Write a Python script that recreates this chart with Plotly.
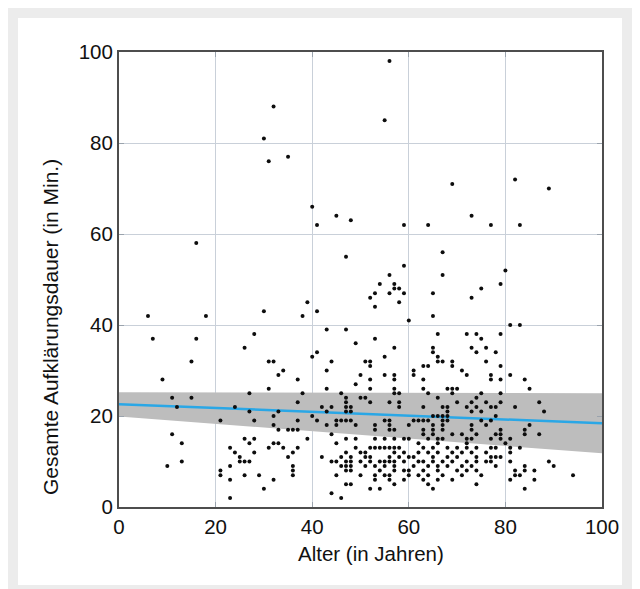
import plotly.graph_objects as go

# ---------------- data ----------------
ages = [
    # sparse upper region
    32, 30, 31, 35, 40, 41, 45, 48, 16, 47, 56, 55, 69, 82, 89, 73, 59, 64, 77, 83, 67, 59, 56, 67, 80, 54, 57, 79,
    # left
    6, 18, 7, 16, 15, 9, 11, 15, 12, 21, 11, 13, 13, 10, 21, 21,
    # 25-45 min, age 25-40
    39, 30, 38, 28, 26, 40, 31, 32, 34, 33, 37, 31, 27, 38,
    # < 25 min, age 20-40
    37, 24, 27, 33, 32, 28, 37, 40, 32, 33, 35, 36, 37, 39, 26, 28, 27, 23, 31, 32,
    33, 34, 37, 24, 28, 36, 25, 35, 25, 26, 27, 23, 36, 36, 36, 26, 29, 32, 23, 30, 23,
    # 25-50 min, age 40-60
    57, 58, 53, 56, 52, 58, 53, 59, 41, 43, 47, 49, 53, 41, 57, 44, 51, 52, 52, 55,
    43, 50, 55, 57, 57, 52, 49, 43, 52, 57, 57, 58, 46,
    # < 25 min, age 40-58
    47, 50, 51,
    47, 52, 56, 58,
    42, 44, 47, 48,
    43, 47, 48,
    41, 45, 46, 47, 48, 55, 56,
    43, 45, 49, 53, 56,
    53, 56, 57,
    44,
    47, 49, 53, 55, 57,
    45,
    49, 52, 53, 54, 55, 56, 57,
    47, 50, 51, 57,
    42, 46, 48, 51, 52, 56,
    44, 45, 47, 48, 50, 52, 54, 55, 56, 57,
    46, 47, 48, 51, 53, 55, 57,
    47, 48, 54, 57,
    45, 50, 53, 55, 56,
    53, 56,
    47, 48, 57,
    52, 54,
    44,
    46,
    # 25-50 min, age 60-77
    65, 75, 73, 65, 60, 66, 72, 74, 75, 65, 73, 76, 65, 74, 66, 66, 67, 69, 76, 63,
    64, 69, 61, 71, 61, 72, 77, 63, 77, 63, 68, 69, 70, 64, 69, 75,
    # < 25 min, age 58-76
    66, 74,
    70, 73, 76,
    58, 63, 67, 68, 72, 74,
    68, 73, 75,
    65, 66, 67, 68,
    61, 62, 63, 64, 67, 68, 75,
    60, 65, 67, 73, 76,
    63, 65, 67, 73,
    63, 65, 69, 71, 74,
    59, 60, 64, 66, 67, 72, 73,
    62, 66, 72,
    58, 63, 65, 68, 70, 72, 74,
    59, 62, 64, 66, 69, 71, 73, 76,
    58, 60, 61, 65, 68, 70, 74,
    59, 62, 63, 65, 67, 69, 72, 74, 76,
    61, 64, 66, 68, 71, 73,
    59, 60, 63, 66, 70, 72, 74,
    60, 62, 64, 67, 71, 75,
    59, 63, 66, 69,
    64, 74,
    65,
    # right side
    81, 83, 79, 78, 79, 79, 81, 84, 85, 79,
    79, 87,
    77, 78, 82,
    88,
    78,
    77,
    85,
    84, 79,
    84, 87, 79, 78,
    77, 79, 81,
    80,
    77, 78, 81, 83,
    81,
    77, 78, 79,
    77, 81, 89,
    78, 84, 90,
    82, 84, 86,
    82, 83, 94,
    86, 81,
    84,
]

minutes = [
    # sparse upper region
    88, 81, 76, 77, 66, 62, 64, 63, 58, 55, 98, 85, 71, 72, 70, 64, 62, 62, 62, 62, 56, 53, 51, 51, 52, 49, 49, 49,
    # left
    42, 42, 37, 37, 32, 28, 24, 24, 22, 19, 16, 14, 10, 9, 8, 7,
    # 25-45 min, age 25-40
    45, 43, 42, 38, 35, 33, 32, 32, 30, 29, 28, 26, 25, 25,
    # < 25 min, age 20-40
    23, 22, 21, 21, 20, 19, 19, 20, 18, 17, 17, 17, 17, 15, 15, 15, 14, 13, 13, 14,
    14, 13, 13, 12, 12, 12, 11, 11, 10, 10, 10, 9, 9, 8, 7, 7, 7, 6, 6, 4, 2,
    # 25-50 min, age 40-60
    48, 48, 47, 47, 46, 45, 44, 47, 43, 39, 39, 36, 37, 34, 35, 32, 32, 32, 31, 33,
    30, 29, 29, 29, 28, 28, 27, 26, 26, 26, 25, 25, 25,
    # < 25 min, age 40-58
    24, 24, 24,
    23, 23, 23, 23,
    22, 22, 22, 22,
    21, 21, 21,
    19, 19, 19, 19, 19, 19, 19,
    18, 18, 18, 18, 18,
    17, 17, 17,
    16,
    15, 15, 15, 15, 15,
    14,
    13, 13, 13, 13, 13, 13, 13,
    12, 12, 12, 12,
    11, 11, 11, 11, 11, 11,
    10, 10, 10, 10, 10, 10, 10, 10, 10, 10,
    9, 9, 9, 9, 9, 9, 9,
    8, 8, 8, 8,
    7, 7, 7, 7, 7,
    6, 6,
    5, 5, 5,
    4, 4,
    3,
    2,
    # 25-50 min, age 60-77
    47, 48, 46, 42, 41, 38, 38, 38, 37, 35, 35, 35, 34, 34, 33, 32, 32, 32, 32, 31,
    31, 31, 30, 30, 29, 29, 29, 28, 28, 26, 26, 26, 26, 25, 25, 25,
    # < 25 min, age 58-76
    24, 24,
    23, 23, 23,
    22, 22, 22, 22, 22, 22,
    21, 21, 21,
    20, 20, 20, 20,
    19, 19, 19, 19, 19, 19, 19,
    18, 18, 18, 18, 18,
    17, 17, 17, 17,
    16, 16, 16, 16, 16,
    15, 15, 15, 15, 15, 15, 15,
    14, 14, 14,
    13, 13, 13, 13, 13, 13, 13,
    12, 12, 12, 12, 12, 12, 12, 12,
    11, 11, 11, 11, 11, 11, 11,
    10, 10, 10, 10, 10, 10, 10, 10, 10,
    9, 9, 9, 9, 9, 9,
    8, 8, 8, 8, 8, 8, 8,
    7, 7, 7, 7, 7, 7,
    6, 6, 6, 6,
    5, 5,
    4,
    # right side
    40, 40, 38, 34, 31, 28, 29, 28, 26, 25,
    23, 23,
    22, 22, 22,
    21,
    20,
    19,
    18,
    17, 17,
    16, 16, 16, 16,
    15, 15, 15,
    14,
    13, 13, 13, 13,
    12,
    11, 11, 11,
    10, 10, 10,
    9, 9, 9,
    8, 8, 8,
    7, 7, 7,
    6, 6,
    4,
]

# regression line and its band
fit_x = [0, 100]
fit_y = [22.6, 18.4]
band_upper = [25.2, 25.0]
band_lower = [19.9, 11.8]

x_ticks = [0, 20, 40, 60, 80, 100]
y_ticks = [0, 20, 40, 60, 80, 100]

x_title = "Alter (in Jahren)"
y_title = "Gesamte Aufklärungsdauer (in Min.)"

# ---------------- figure ----------------
FONT = "Liberation Sans, Arial, Helvetica, sans-serif"
TXT = "#111111"

fig = go.Figure()

fig.add_trace(go.Scatter(
    x=fit_x + fit_x[::-1],
    y=band_upper + band_lower[::-1],
    fill="toself",
    fillcolor="#bdbdbd",
    line=dict(width=0),
    mode="lines",
    hoverinfo="skip",
    showlegend=False,
))

fig.add_trace(go.Scatter(
    x=fit_x, y=fit_y,
    mode="lines",
    line=dict(color="#2aa7e6", width=2.5),
    showlegend=False,
))

fig.add_trace(go.Scatter(
    x=ages, y=minutes,
    mode="markers",
    marker=dict(color="#0d0d0d", size=4, line=dict(width=0)),
    showlegend=False,
))

W, H = 640, 589
ml, mt = 111, 44
pw, ph = 483, 455
mr, mb = W - ml - pw, H - mt - ph

# white card behind the chart
fig.add_shape(
    type="rect", xref="paper", yref="paper", layer="below",
    x0=(10 - ml) / pw, x1=(614 - ml) / pw,
    y0=(mt + ph - 577) / ph, y1=(mt + ph - 10) / ph,
    fillcolor="white", line=dict(width=0),
)

axis_common = dict(
    showgrid=True,
    gridcolor="#c9d0d9",
    gridwidth=1,
    zeroline=False,
    showline=True,
    linecolor="#4d4d4d",
    linewidth=2,
    mirror="ticks",
    ticks="inside",
    ticklen=5,
    tickcolor="#9aa3ad",
    tickfont=dict(family=FONT, size=20.5, color=TXT),
)

fig.update_xaxes(range=[0, 100], tickvals=x_ticks,
                 ticktext=[str(v) for v in x_ticks], **axis_common)
fig.update_yaxes(range=[0, 100], tickvals=y_ticks,
                 ticktext=[str(v) for v in y_ticks], **axis_common)

# axis titles as annotations (the y title sits below the plot centre)
fig.add_annotation(
    text=x_title, xref="paper", yref="paper",
    x=(363 - ml) / pw, y=(mt + ph - 545) / ph,
    xanchor="center", yanchor="middle", showarrow=False,
    font=dict(family=FONT, size=20.5, color=TXT),
)
fig.add_annotation(
    text=y_title, xref="paper", yref="paper",
    x=(42 - ml) / pw, y=(mt + ph - 319) / ph,
    xanchor="center", yanchor="middle", showarrow=False, textangle=-90,
    font=dict(family=FONT, size=21, color=TXT),
)

fig.update_layout(
    width=W, height=H,
    margin=dict(l=ml, r=mr, t=mt, b=mb, pad=0),
    paper_bgcolor="#ececec",
    plot_bgcolor="white",
    showlegend=False,
    font=dict(family=FONT, size=20.5, color=TXT),
)

fig.write_html("out.html")
